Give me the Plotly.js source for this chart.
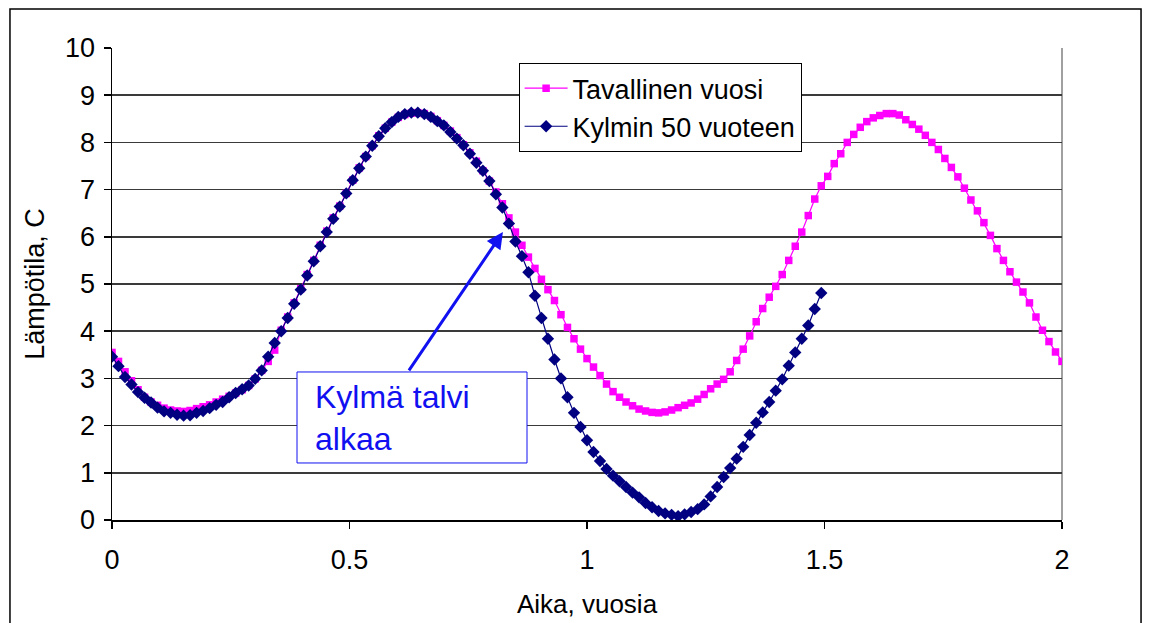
<!DOCTYPE html>
<html>
<head>
<meta charset="utf-8">
<script src="https://cdn.plot.ly/plotly-3.0.1.min.js"></script>
<style>html,body{margin:0;padding:0;background:#fff;}#chart{width:1149px;height:623px;}</style>
</head>
<body>
<div id="chart"></div>
<script>
// Time in years (5-day steps)
const timeYears = [
0.0000,0.0137,0.0274,0.0411,0.0548,0.0685,0.0822,0.0959,0.1096,0.1233,
0.1370,0.1507,0.1644,0.1781,0.1918,0.2055,0.2192,0.2329,0.2466,0.2603,
0.2740,0.2877,0.3014,0.3151,0.3288,0.3425,0.3562,0.3699,0.3836,0.3973,
0.4110,0.4247,0.4384,0.4521,0.4658,0.4795,0.4932,0.5068,0.5205,0.5342,
0.5479,0.5616,0.5753,0.5890,0.6027,0.6164,0.6301,0.6438,0.6575,0.6712,
0.6849,0.6986,0.7123,0.7260,0.7397,0.7534,0.7671,0.7808,0.7945,0.8082,
0.8219,0.8356,0.8493,0.8630,0.8767,0.8904,0.9041,0.9178,0.9315,0.9452,
0.9589,0.9726,0.9863,1.0000,1.0137,1.0274,1.0411,1.0548,1.0685,1.0822,
1.0959,1.1096,1.1233,1.1370,1.1507,1.1644,1.1781,1.1918,1.2055,1.2192,
1.2329,1.2466,1.2603,1.2740,1.2877,1.3014,1.3151,1.3288,1.3425,1.3562,
1.3699,1.3836,1.3973,1.4110,1.4247,1.4384,1.4521,1.4658,1.4795,1.4932,
1.5068,1.5205,1.5342,1.5479,1.5616,1.5753,1.5890,1.6027,1.6164,1.6301,
1.6438,1.6575,1.6712,1.6849,1.6986,1.7123,1.7260,1.7397,1.7534,1.7671,
1.7808,1.7945,1.8082,1.8219,1.8356,1.8493,1.8630,1.8767,1.8904,1.9041,
1.9178,1.9315,1.9452,1.9589,1.9726,1.9863,2.0000
];

// "Tavallinen vuosi" (normal year), temperature C
const normalYear = [
3.55,3.36,3.14,2.95,2.76,2.60,2.50,2.43,2.37,2.33,
2.31,2.30,2.32,2.36,2.40,2.44,2.50,2.56,2.62,2.69,
2.76,2.85,2.99,3.17,3.36,3.60,4.02,4.30,4.60,4.90,
5.20,5.50,5.82,6.12,6.40,6.65,6.92,7.20,7.46,7.70,
7.93,8.14,8.30,8.43,8.53,8.59,8.62,8.63,8.61,8.55,
8.46,8.36,8.24,8.10,7.95,7.78,7.60,7.40,7.18,6.95,
6.70,6.40,6.10,5.82,5.57,5.33,5.10,4.88,4.65,4.35,
4.08,3.84,3.62,3.42,3.24,3.06,2.88,2.72,2.60,2.50,
2.42,2.35,2.31,2.28,2.27,2.29,2.33,2.38,2.43,2.48,
2.56,2.66,2.78,2.88,2.98,3.14,3.38,3.62,3.90,4.20,
4.48,4.72,4.95,5.20,5.50,5.80,6.10,6.45,6.80,7.08,
7.28,7.55,7.76,8.00,8.17,8.32,8.44,8.52,8.57,8.61,
8.61,8.58,8.48,8.38,8.28,8.15,8.00,7.85,7.66,7.47,
7.27,7.03,6.78,6.55,6.30,6.03,5.75,5.50,5.26,5.04,
4.83,4.60,4.30,4.02,3.78,3.56,3.36
];

// "Kylmin 50 vuoteen" (coldest in 50 years), temperature C
const coldYear = [
3.46,3.26,3.03,2.87,2.71,2.59,2.49,2.38,2.30,2.27,
2.23,2.21,2.22,2.27,2.31,2.37,2.44,2.50,2.60,2.69,
2.77,2.85,2.99,3.17,3.46,3.75,4.00,4.28,4.58,4.88,
5.18,5.48,5.80,6.10,6.38,6.64,6.92,7.20,7.45,7.70,
7.93,8.13,8.30,8.43,8.54,8.60,8.63,8.63,8.60,8.54,
8.45,8.36,8.22,8.08,7.94,7.76,7.57,7.40,7.18,6.90,
6.62,6.28,5.90,5.59,5.25,4.75,4.28,3.84,3.40,3.00,
2.60,2.27,1.97,1.69,1.44,1.25,1.08,0.94,0.82,0.70,
0.58,0.48,0.36,0.27,0.19,0.14,0.11,0.08,0.12,0.17,
0.23,0.33,0.50,0.70,0.91,1.10,1.30,1.55,1.80,2.06,
2.28,2.50,2.74,2.98,3.27,3.55,3.84,4.12,4.47,4.81
];

const seriesNames = ["Tavallinen vuosi", "Kylmin 50 vuoteen"];
const xTicks = [0, 0.5, 1, 1.5, 2];
const xTickLabels = ["0", "0.5", "1", "1.5", "2"];
const yTicks = [0,1,2,3,4,5,6,7,8,9,10];

const FONT = "Liberation Sans, Arial, sans-serif";
const BLUE = "#1010F0";

const traces = [
  {
    x: timeYears, y: normalYear, name: seriesNames[0], type: "scatter", mode: "lines+markers",
    line: {color: "#FF00FF", width: 1.2},
    marker: {symbol: "square", size: 7.5, color: "#FF00FF"}
  },
  {
    x: timeYears.slice(0, coldYear.length), y: coldYear, name: seriesNames[1], type: "scatter", mode: "lines+markers",
    line: {color: "#000080", width: 1.2},
    marker: {symbol: "diamond", size: 9.5, color: "#000080"}
  }
];

const layout = {
  width: 1149, height: 623,
  margin: {l: 112, r: 87, t: 48, b: 103, pad: 0},
  paper_bgcolor: "#fff", plot_bgcolor: "#fff",
  font: {family: FONT, size: 27, color: "#000"},
  showlegend: true,
  legend: {
    x: 0.428, y: 0.968, xanchor: "left", yanchor: "top",
    bgcolor: "#fff", bordercolor: "#000", borderwidth: 1,
    font: {family: FONT, size: 27, color: "#000"},
    traceorder: "normal", itemwidth: 43
  },
  xaxis: {
    range: [0, 2], tickvals: xTicks, ticktext: xTickLabels,
    showgrid: false, zeroline: false,
    showline: true, linecolor: "#000", linewidth: 1.5,
    ticks: "outside", ticklen: 7, tickcolor: "#000", tickwidth: 1.5,
    ticklabelstandoff: 8,
    tickfont: {family: FONT, size: 27},
    title: {text: "Aika, vuosia", font: {family: FONT, size: 26}, standoff: 21}
  },
  yaxis: {
    range: [0, 10], tickvals: yTicks,
    showgrid: true, gridcolor: "#3a3a3a", gridwidth: 1.5,
    zeroline: false,
    showline: true, linecolor: "#000", linewidth: 1.5,
    ticks: "outside", ticklen: 7, tickcolor: "#000", tickwidth: 1.5,
    ticklabelstandoff: 3,
    tickfont: {family: FONT, size: 27},
    title: {text: "Lämpötila, C", font: {family: FONT, size: 27}, standoff: 12}
  },
  shapes: [
    {type: "rect", xref: "paper", yref: "paper", x0: -0.1074, x1: 1.0832, y0: -0.25, y1: 1.0826,
     line: {color: "#000", width: 1.5}, layer: "below"},
    {type: "line", xref: "paper", yref: "paper", x0: 1, x1: 1, y0: 0, y1: 1,
     line: {color: "#808080", width: 1.5}, layer: "below"},
    {type: "rect", xref: "x", yref: "y", x0: 0.3895, x1: 0.8737, y0: 1.208, y1: 3.136,
     fillcolor: "#fff", line: {color: BLUE, width: 1}, layer: "above"}
  ],
  annotations: [
    {x: 0.823, y: 6.1, xref: "x", yref: "y", ax: 0.623, ay: 3.14, axref: "x", ayref: "y",
     text: "", showarrow: true, arrowhead: 2, arrowsize: 1.1, arrowwidth: 3, arrowcolor: BLUE},
    {x: 0.4232, y: 2.17, xref: "x", yref: "y", xanchor: "left", yanchor: "middle",
     text: "Kylmä talvi<br>alkaa", align: "left", showarrow: false,
     font: {family: FONT, size: 32, color: BLUE}}
  ]
};

Plotly.newPlot("chart", traces, layout, {displayModeBar: false, staticPlot: true});
</script>
</body>
</html>
